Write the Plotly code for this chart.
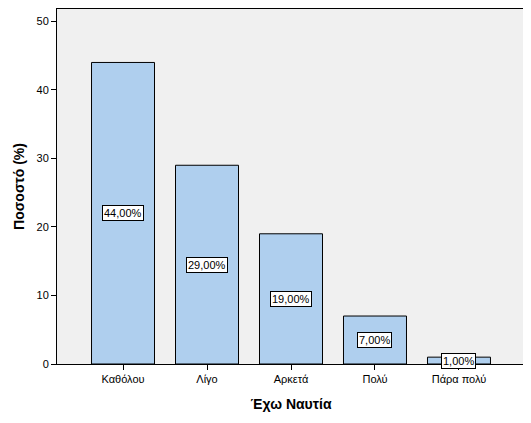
import plotly.graph_objects as go

categories = ["Καθόλου", "Λίγο", "Αρκετά", "Πολύ", "Πάρα πολύ"]
percents = [44, 29, 19, 7, 1]
labels = ["44,00%", "29,00%", "19,00%", "7,00%", "1,00%"]

fig = go.Figure()

fig.add_trace(go.Bar(
    x=categories,
    y=percents,
    width=0.75,
    marker=dict(color="#AFCFEE", line=dict(color="black", width=1)),
    hoverinfo="skip",
))

# value boxes in the middle of each bar
for cat, val, lab in zip(categories, percents, labels):
    fig.add_annotation(
        x=cat, y=val / 2, text=lab, showarrow=False,
        bgcolor="white", bordercolor="black", borderwidth=1, borderpad=1,
        font=dict(family="Liberation Sans, Arial", size=11, color="black"),
    )

# page body adds an 8px offset, margins are compensated for it
fig.update_layout(
    width=531, height=423,
    margin=dict(l=49, r=14, t=1, b=67),
    paper_bgcolor="white",
    plot_bgcolor="#F0F0F0",
    showlegend=False,
    font=dict(family="Liberation Sans, Arial", size=11, color="black"),
)

fig.update_xaxes(
    range=[-0.786, 4.786],
    automargin=False,
    showline=True, linecolor="black", linewidth=1, mirror=True,
    ticks="outside", ticklen=5, tickcolor="black",
    showgrid=False,
    title=dict(text="<b>Έχω Ναυτία</b>", font=dict(size=14), standoff=14),
)
fig.update_yaxes(
    range=[0, 51.8],
    automargin=False,
    tickvals=[0, 10, 20, 30, 40, 50],
    showline=True, linecolor="black", linewidth=1, mirror=True,
    ticks="outside", ticklen=5, tickcolor="black",
    showgrid=False, zeroline=False,
    title=dict(text="<b>Ποσοστό (%)</b>", font=dict(size=14), standoff=8),
)

fig.write_html("out.html")
